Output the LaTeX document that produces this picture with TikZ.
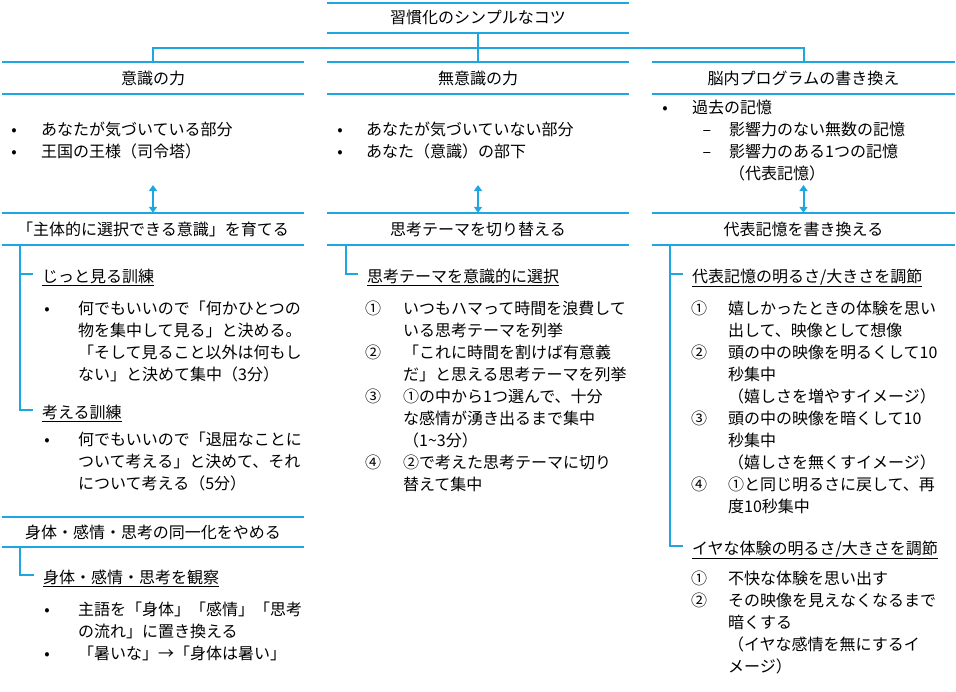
\documentclass[tikz,border=0pt]{standalone}
\usepackage{fontspec}
\setmainfont{Noto Sans CJK JP}
\usetikzlibrary{arrows.meta}
\definecolor{lineblue}{HTML}{1EA6E0}
\newcommand{\blk}[1]{\begin{tabular}[t]{@{}l@{}}#1\end{tabular}}
\begin{document}
\begin{tikzpicture}[x=1pt,y=-1pt,
  bl/.style={draw=lineblue,line width=2pt},
  hdr/.style={inner sep=0pt,minimum height=32pt,font=\fontsize{16}{22}\selectfont},
  txt/.style={inner sep=0pt,anchor=base west,font=\fontsize{16}{22}\selectfont},
  mk/.style={inner sep=0pt,anchor=base,font=\fontsize{16}{22}\selectfont},
  branchline/.style={draw=lineblue,line width=2pt,shorten >=9pt},
  dblarrow/.style={draw=lineblue,line width=2pt,{Triangle[length=6pt,width=8pt]}-{Triangle[length=6pt,width=8pt]}}]
\useasboundingbox (0,0) rectangle (956,691);
% headers
\node[hdr,minimum width=302pt,minimum height=30pt] (title) at (478,17.7) {習慣化のシンプルなコツ};
\node[hdr,minimum width=302pt] (c1h) at (153,78) {意識の力};
\node[hdr,minimum width=302pt] (c2h) at (478,78) {無意識の力};
\node[hdr,minimum width=303pt] (c3h) at (803.5,78) {脳内プログラムの書き換え};
\node[hdr,minimum width=302pt] (c1s) at (153,229) {「主体的に選択できる意識」を育てる};
\node[hdr,minimum width=302pt] (c2s) at (478,229) {思考テーマを切り替える};
\node[hdr,minimum width=303pt] (c3s) at (803.5,229) {代表記憶を書き換える};
\node[hdr,minimum width=302pt,minimum height=30pt] (c1t) at (153,532) {身体・感情・思考の同一化をやめる};
\foreach \n in {title,c1h,c2h,c3h,c1s,c2s,c3s,c1t}{
  \draw[bl] (\n.north west) -- (\n.north east);
  \draw[bl] (\n.south west) -- (\n.south east);
}
% bus
\coordinate (bus) at (478,48);
\draw[bl] (title.south) -- (bus);
\draw[bl] (c1h.north) |- (c3h.north |- bus) -- (c3h.north);
\draw[bl] (bus) -- (c2h.north);
% arrows
\coordinate (a1) at (153,185);
\coordinate (a2) at (478,185);
\coordinate (a3) at (803.5,185);
\draw[dblarrow] (a1) -- (c1s.north);
\draw[dblarrow] (a2) -- (c2s.north);
\draw[dblarrow] (a3) -- (c3s.north);
% column 1 top
\node[mk] (b11) at (14,135) {•};
\node[mk] (b12) at (14,157) {•};
\node[txt] (t11) at (41,135) {\blk{あなたが気づいている部分\\王国の王様（司令塔）}};
% column 2 top
\node[mk] (b21) at (340,135) {•};
\node[mk] (b22) at (340,157) {•};
\node[txt] (t21) at (366,135) {\blk{あなたが気づいていない部分\\あなた（意識）の部下}};
% column 3 top
\node[mk] (b31) at (665,113) {•};
\node[txt] (t31) at (692,113) {過去の記憶};
\node[mk] (d31) at (707,135) {–};
\node[mk] (d32) at (707,157) {–};
\node[txt] (t32) at (729,135) {\blk{影響力のない無数の記憶\\影響力のある1つの記憶\\（代表記憶）}};
% column 1 tree
\node[txt] (s11) at (42,282) {\underline{じっと見る訓練}};
\node[mk] (b13) at (47,314) {•};
\node[txt] (t13) at (78,314) {\blk{何でもいいので「何かひとつの\\物を集中して見る」と決める。\\「そして見ること以外は何もし\\ない」と決めて集中（3分）}};
\node[txt] (s12) at (42,418) {\underline{考える訓練}};
\node[mk] (b14) at (47,445) {•};
\node[txt] (t14) at (78,445) {\blk{何でもいいので「退屈なことに\\ついて考える」と決めて、それ\\について考える（5分）}};
\coordinate (v1) at ([xshift=18pt]c1s.south west);
\draw[branchline] (v1) |- ([yshift=8pt]s11.base west);
\draw[branchline] (v1) |- ([yshift=8pt]s12.base west);
% column 1 third
\node[txt] (s13) at (43,583) {\underline{身体・感情・思考を観察}};
\node[mk] (b15) at (47,615) {•};
\node[mk] (b16) at (47,659) {•};
\node[txt] (t15) at (78,615) {\blk{主語を「身体」「感情」「思考\\の流れ」に置き換える\\「暑いな」→「身体は暑い」}};
\coordinate (v1b) at ([xshift=18pt]c1t.south west);
\draw[branchline] (v1b) |- ([yshift=8pt]s13.base west);
% column 2 tree
\node[txt] (s21) at (367,282) {\underline{思考テーマを意識的に選択}};
\node[mk] (n21) at (373,314) {①};
\node[mk] (n22) at (373,358) {②};
\node[mk] (n23) at (373,402) {③};
\node[mk] (n24) at (373,468) {④};
\node[txt] (t22) at (403,314) {\blk{いつもハマって時間を浪費して\\いる思考テーマを列挙\\「これに時間を割けば有意義\\だ」と思える思考テーマを列挙\\①の中から1つ選んで、十分\\な感情が湧き出るまで集中\\（1\textasciitilde 3分）\\②で考えた思考テーマに切り\\替えて集中}};
\coordinate (v2) at ([xshift=19pt]c2s.south west);
\draw[branchline] (v2) |- ([yshift=8pt]s21.base west);
% column 3 tree
\node[txt] (s31) at (692,282) {\underline{代表記憶の明るさ/大きさを調節}};
\node[mk] (n31) at (699,314) {①};
\node[mk] (n32) at (699,358) {②};
\node[mk] (n33) at (699,424) {③};
\node[mk] (n34) at (699,490) {④};
\node[txt] (t33) at (728,314) {\blk{嬉しかったときの体験を思い\\出して、映像として想像\\頭の中の映像を明るくして10\\秒集中\\（嬉しさを増やすイメージ）\\頭の中の映像を暗くして10\\秒集中\\（嬉しさを無くすイメージ）\\①と同じ明るさに戻して、再\\度10秒集中}};
\node[txt] (s32) at (692,554) {\underline{イヤな体験の明るさ/大きさを調節}};
\node[mk] (n35) at (699,584) {①};
\node[mk] (n36) at (699,606) {②};
\node[txt] (t34) at (728,584) {\blk{不快な体験を思い出す\\その映像を見えなくなるまで\\暗くする\\（イヤな感情を無にするイ\\メージ）}};
\coordinate (v3) at ([xshift=18pt]c3s.south west);
\draw[branchline] (v3) |- ([yshift=8pt]s31.base west);
\draw[branchline] (v3) |- ([yshift=8pt]s32.base west);
\end{tikzpicture}
\end{document}
